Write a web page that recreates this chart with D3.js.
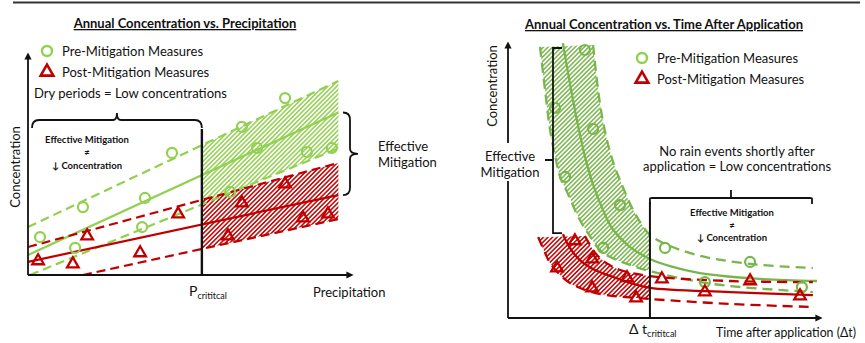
<!DOCTYPE html>
<html>
<head>
<meta charset="utf-8">
<script src="https://cdn.jsdelivr.net/npm/d3@7"></script>
<style>
  body { margin: 0; background: #fff; }
  svg { display: block; }
  text { font-family: Lato, "Open Sans", sans-serif; fill: #111; }
</style>
</head>
<body>
<svg id="chart" width="865" height="343"></svg>
<script>
// ---------- Panel A: annual concentration vs. precipitation (relative units 0–10) ----------
const precipPre = [[0.37,1.71],[1.45,1.22],[1.69,3.06],[3.51,2.16],[3.60,3.47],[4.43,5.50],
                   [6.22,3.74],[6.58,6.67],[7.05,5.72],[7.91,7.97],[8.58,5.54],[9.35,5.72]];
const precipPost = [[0.31,0.68],[1.38,0.54],[1.82,1.80],[3.45,1.04],[4.62,2.79],
                    [6.15,1.80],[6.58,3.29],[7.91,4.14],[8.46,2.61],[9.23,2.79]];
const precipPreMid   = [[0,0.90],[9.55,7.32]];
const precipPreUpper = [[0,2.16],[9.55,8.74]];
const precipPreLower = [[0.06,0],[9.55,5.70]];
const precipPostMid   = [[0,0.59],[9.55,3.60]];
const precipPostUpper = [[0,1.26],[9.55,5.05]];
const precipPostLower = [[1.69,0],[9.55,2.52]];
const pCritical = 5.35;

// ---------- Panel B: annual concentration vs. time after application (relative units 0–10) ----------
const timePre = [[2.45,9.71],[1.50,7.61],[2.71,6.85],[1.82,5.11],[3.57,4.09],[3.03,2.54],
                 [5.00,2.54],[7.71,2.03],[6.27,1.30],[9.36,1.12]];
const timePost = [[2.13,2.83],[2.68,2.17],[1.56,1.85],[3.79,1.49],[2.68,1.12],[4.08,0.76],
                  [4.90,1.45],[6.27,0.98],[7.71,1.38],[9.30,0.83]];
const timePreMid = [[1.75,9.96],[2.01,8.26],[2.26,6.81],[2.48,5.72],[2.68,4.93],[2.93,4.17],
                    [3.31,3.26],[3.89,2.57],[4.52,2.14],[5.16,1.88],[6.11,1.63],[8.12,1.41],[9.84,1.34]];
const timePreUpper = [[2.71,9.89],[2.83,8.62],[2.96,7.54],[3.15,6.45],[3.38,5.54],[3.63,4.82],
                      [3.95,3.99],[4.27,3.37],[4.52,3.01],[4.94,2.72],[6.02,2.28],[7.71,1.96],[9.71,1.81]];
const timePreLower = [[1.02,9.82],[1.18,8.26],[1.34,6.81],[1.53,5.72],[1.66,5.11],[1.88,4.57],
                      [2.29,3.55],[2.61,2.97],[2.99,2.39],[3.89,1.92],[4.52,1.70],[6.53,1.23],[9.71,0.94]];
const timePostMid = [[1.75,3.04],[1.97,2.54],[2.29,2.10],[2.77,1.74],[3.34,1.49],[3.89,1.27],
                     [4.52,1.09],[7.07,0.94],[9.71,0.83]];
const timePostUpper = [[2.45,2.97],[2.83,2.28],[3.18,1.96],[3.57,1.74],[4.52,1.52],[7.07,1.34],[9.71,1.30]];
const timePostLower = [[0.96,2.93],[1.18,2.36],[1.34,1.99],[1.66,1.56],[1.97,1.27],[2.55,0.98],
                       [3.15,0.83],[4.52,0.69],[7.07,0.51],[9.71,0.40]];
const tCritical = 4.52;

const GREEN_A = "#92d050", GREEN_B = "#78b64c", RED = "#c00000", INK = "#111";

const svg = d3.select("#chart");
const defs = svg.append("defs");

function hatch(id, color) {
  const p = defs.append("pattern").attr("id", id)
    .attr("patternUnits", "userSpaceOnUse").attr("width", 3.2).attr("height", 3.2)
    .attr("patternTransform", "rotate(45)");
  p.append("line").attr("x1", 1.6).attr("x2", 1.6).attr("y1", -1).attr("y2", 4.2)
    .attr("stroke", color).attr("stroke-width", 1.5);
}
hatch("hatchGreenA", GREEN_A);
hatch("hatchGreenB", GREEN_B);
hatch("hatchRed", RED);

defs.append("marker").attr("id", "arrow").attr("viewBox", "0 0 10 10")
  .attr("refX", 5).attr("refY", 5).attr("markerWidth", 4).attr("markerHeight", 4)
  .attr("orient", "auto-start-reverse")
  .append("path").attr("d", "M0,0 L10,5 L0,10 Z").attr("fill", INK);

// frame rule at the top
svg.append("line").attr("x1", 13).attr("x2", 860).attr("y1", 2.5).attr("y2", 2.5)
  .attr("stroke", "#333").attr("stroke-width", 2);

function addText(g, x, y, str, opts = {}) {
  const t = g.append("text").attr("x", x).attr("y", y).text(str)
    .attr("font-size", opts.size || 13)
    .attr("text-anchor", opts.anchor || "start");
  if (opts.bold) t.attr("font-weight", "bold");
  if (opts.underline) t.style("text-decoration", "underline");
  if (opts.rotate) t.attr("transform", `rotate(${opts.rotate},${x},${y})`);
  if (opts.length) t.attr("textLength", opts.length).attr("lengthAdjust", "spacingAndGlyphs");
  return t;
}

function drawCircles(g, data, x, y, color, r, w) {
  g.append("g").selectAll("circle").data(data).join("circle")
    .attr("cx", d => x(d[0])).attr("cy", d => y(d[1])).attr("r", r)
    .attr("fill", "none").attr("stroke", color).attr("stroke-width", w);
}
function drawTriangles(g, data, x, y, color, size, w) {
  const sym = d3.symbol(d3.symbolTriangle, size);
  g.append("g").selectAll("path").data(data).join("path")
    .attr("d", sym).attr("transform", d => `translate(${x(d[0])},${y(d[1]) + 1})`)
    .attr("fill", "none").attr("stroke", color).attr("stroke-width", w)
    .attr("stroke-linejoin", "miter");
}
function legend(g, x, y) {
  g.append("circle").attr("cx", x).attr("cy", y).attr("r", 5)
    .attr("fill", "none").attr("stroke", GREEN_A).attr("stroke-width", 2.4);
  g.append("path").attr("d", d3.symbol(d3.symbolTriangle, 70))
    .attr("transform", `translate(${x},${y + 21})`)
    .attr("fill", "none").attr("stroke", RED).attr("stroke-width", 2.6);
  addText(g, x + 15, y + 5, "Pre-Mitigation Measures", {size: 13});
  addText(g, x + 15, y + 26, "Post-Mitigation Measures", {size: 13});
}

// ======================= Panel A =======================
(function () {
  const g = svg.append("g");
  const x = d3.scaleLinear().domain([0, 10]).range([28, 353]);
  const y = d3.scaleLinear().domain([0, 10]).range([275, 53]);
  const line = d3.line().x(d => x(d[0])).y(d => y(d[1]));

  defs.append("clipPath").attr("id", "clipA").append("rect")
    .attr("x", x(0)).attr("y", y(10)).attr("width", x(10) - x(0)).attr("height", y(0) - y(10));

  // hatched bands right of the critical precipitation
  const band = (up, lo) => {
    const f = t => [t, up[0][1] + (up[1][1] - up[0][1]) * (t - up[0][0]) / (up[1][0] - up[0][0])];
    const h = t => [t, lo[0][1] + (lo[1][1] - lo[0][1]) * (t - lo[0][0]) / (lo[1][0] - lo[0][0])];
    return [f(pCritical), up[1], lo[1], h(pCritical)];
  };
  g.append("path").attr("d", line(band(precipPreUpper, precipPreLower)) + "Z")
    .attr("fill", "url(#hatchGreenA)");
  g.append("path").attr("d", line(band(precipPostUpper, precipPostLower)) + "Z")
    .attr("fill", "url(#hatchRed)");

  const lines = g.append("g").attr("clip-path", "url(#clipA)").attr("fill", "none");
  [[precipPreUpper, GREEN_A, true], [precipPreLower, GREEN_A, true], [precipPreMid, GREEN_A, false],
   [precipPostUpper, RED, true], [precipPostLower, RED, true], [precipPostMid, RED, false]]
    .forEach(([d, c, dashed]) => {
      lines.append("path").attr("d", line(d)).attr("stroke", c).attr("stroke-width", 2.2)
        .attr("stroke-dasharray", dashed ? "9,5" : null);
    });

  drawCircles(g, precipPre, x, y, GREEN_A, 5, 2.2);
  drawTriangles(g, precipPost, x, y, RED, 58, 2.3);

  // axes
  g.append("line").attr("x1", x(0)).attr("x2", x(0)).attr("y1", y(0)).attr("y2", y(10) + 3)
    .attr("stroke", INK).attr("stroke-width", 1.8).attr("marker-end", "url(#arrow)");
  g.append("line").attr("x1", x(0)).attr("x2", x(10) - 3).attr("y1", y(0)).attr("y2", y(0))
    .attr("stroke", INK).attr("stroke-width", 1.8).attr("marker-end", "url(#arrow)");
  g.append("line").attr("x1", x(pCritical)).attr("x2", x(pCritical)).attr("y1", 129).attr("y2", y(0))
    .attr("stroke", INK).attr("stroke-width", 2.4);

  // bracket over the dry-period range
  const bx0 = x(0) + 4, bx1 = x(pCritical), bm = (bx0 + bx1) / 2, by = 120;
  g.append("path").attr("fill", "none").attr("stroke", INK).attr("stroke-width", 1.8)
    .attr("d", `M${bx0},${by + 8} Q${bx0},${by} ${bx0 + 7},${by} L${bm - 4},${by} Q${bm},${by} ${bm},${by - 7}
                Q${bm},${by} ${bm + 4},${by} L${bx1 - 7},${by} Q${bx1},${by} ${bx1},${by + 8}`);

  // bracket between pre and post trend ends
  const rx = 350, ry0 = y(precipPreMid[1][1]), ry1 = y(precipPostMid[1][1]), rm = (ry0 + ry1) / 2;
  g.append("path").attr("fill", "none").attr("stroke", INK).attr("stroke-width", 1.8)
    .attr("d", `M${rx - 7},${ry0} Q${rx},${ry0} ${rx},${ry0 + 7} L${rx},${rm - 5} Q${rx},${rm} ${rx + 8},${rm}
                Q${rx},${rm} ${rx},${rm + 5} L${rx},${ry1 - 7} Q${rx},${ry1} ${rx - 7},${ry1}`);

  // text
  addText(g, 185, 28, "Annual Concentration vs. Precipitation", {size: 13, bold: true, anchor: "middle", underline: true});
  legend(g, 47, 51);
  addText(g, 34, 98, "Dry periods = Low concentrations", {size: 13, length: 193});
  addText(g, 87, 143, "Effective Mitigation", {size: 9.5, bold: true, anchor: "middle"});
  addText(g, 87, 156, "≠", {size: 9.5, bold: true, anchor: "middle"});
  addText(g, 87, 169, "↓ Concentration", {size: 9.5, bold: true, anchor: "middle"});
  addText(g, 20, 167, "Concentration", {size: 13, anchor: "middle", rotate: -90});
  const p = addText(g, 189, 296, "P", {size: 14});
  p.append("tspan").attr("font-size", 9).attr("dy", 3).text("crititcal");
  addText(g, 313, 297, "Precipitation", {size: 13});
  addText(g, 378, 151, "Effective", {size: 13});
  addText(g, 378, 167, "Mitigation", {size: 13});
})();

// ======================= Panel B =======================
(function () {
  const g = svg.append("g");
  const x = d3.scaleLinear().domain([0, 10]).range([508, 822]);
  const y = d3.scaleLinear().domain([0, 10]).range([318, 42]);
  const curve = d3.line().x(d => x(d[0])).y(d => y(d[1])).curve(d3.curveCatmullRom.alpha(0.5));

  defs.append("clipPath").attr("id", "clipB").append("rect")
    .attr("x", x(0)).attr("y", 0).attr("width", x(tCritical) - x(0)).attr("height", y(0));

  // hatched bands left of the critical time
  const bands = g.append("g").attr("clip-path", "url(#clipB)");
  bands.append("path").attr("d", curve(timePreUpper.concat(timePreLower.slice().reverse())) + "Z")
    .attr("fill", "url(#hatchGreenB)");
  bands.append("path").attr("d", curve(timePostUpper.concat(timePostLower.slice().reverse())) + "Z")
    .attr("fill", "url(#hatchRed)");

  const lines = g.append("g").attr("fill", "none");
  [[timePreUpper, GREEN_B, true], [timePreLower, GREEN_B, true], [timePreMid, GREEN_B, false],
   [timePostUpper, RED, true], [timePostLower, RED, true], [timePostMid, RED, false]]
    .forEach(([d, c, dashed]) => {
      lines.append("path").attr("d", curve(d)).attr("stroke", c).attr("stroke-width", 2.3)
        .attr("stroke-dasharray", dashed ? "10,6" : null);
    });

  drawCircles(g, timePre, x, y, GREEN_B, 5, 2.2);
  drawTriangles(g, timePost, x, y, RED, 58, 2.3);

  // axes
  g.append("line").attr("x1", x(0)).attr("x2", x(0)).attr("y1", y(0)).attr("y2", y(10) + 3)
    .attr("stroke", INK).attr("stroke-width", 1.8).attr("marker-end", "url(#arrow)");
  g.append("line").attr("x1", x(0)).attr("x2", x(10) - 3).attr("y1", y(0)).attr("y2", y(0))
    .attr("stroke", INK).attr("stroke-width", 1.8).attr("marker-end", "url(#arrow)");
  g.append("line").attr("x1", x(tCritical)).attr("x2", x(tCritical)).attr("y1", 202).attr("y2", y(0))
    .attr("stroke", INK).attr("stroke-width", 2);

  // vertical bracket between pre and post curve starts
  const vx = 553, vy0 = 48, vy1 = y(timePostMid[0][1]) - 1, vm = 160;
  g.append("path").attr("fill", "none").attr("stroke", INK).attr("stroke-width", 1.8)
    .attr("d", `M${vx + 9},${vy0} L${vx},${vy0} L${vx},${vy1} L${vx + 9},${vy1} M${vx},${vm} L${vx - 8},${vm}`);

  // bracket over the late-time range
  const hx0 = x(tCritical), hx1 = 812, hm = (hx0 + hx1) / 2, hy = 198;
  g.append("path").attr("fill", "none").attr("stroke", INK).attr("stroke-width", 1.8)
    .attr("d", `M${hx0},${hy + 6} L${hx0},${hy + 1} Q${hx0},${hy} ${hx0 + 2},${hy} L${hx1 - 2},${hy}
                Q${hx1},${hy} ${hx1},${hy + 1} L${hx1},${hy + 6} M${hm},${hy} L${hm},${hy - 8}`);

  // text
  addText(g, 664, 29, "Annual Concentration vs. Time After Application", {size: 13, bold: true, anchor: "middle", underline: true});
  legend(g, 642, 58);
  addText(g, 497, 86, "Concentration", {size: 13, anchor: "middle", rotate: -90});
  g.append("rect").attr("x", 481).attr("y", 143).attr("width", 60).attr("height", 38).attr("fill", "#fff");
  addText(g, 510, 161, "Effective", {size: 13, anchor: "middle"});
  addText(g, 510, 177, "Mitigation", {size: 13, anchor: "middle"});
  addText(g, 737, 156, "No rain events shortly after", {size: 13, anchor: "middle"});
  addText(g, 737, 171, "application = Low concentrations", {size: 13, anchor: "middle"});
  addText(g, 732, 216, "Effective Mitigation", {size: 9.5, bold: true, anchor: "middle"});
  addText(g, 732, 229, "≠", {size: 9.5, bold: true, anchor: "middle"});
  addText(g, 732, 241, "↓ Concentration", {size: 9.5, bold: true, anchor: "middle"});
  const dt = addText(g, 629, 334, "Δ t", {size: 14});
  dt.append("tspan").attr("font-size", 9).attr("dy", 3).text("crititcal");
  addText(g, 716, 337, "Time after application (Δt)", {size: 12.5, length: 140});
})();
</script>
</body>
</html>
